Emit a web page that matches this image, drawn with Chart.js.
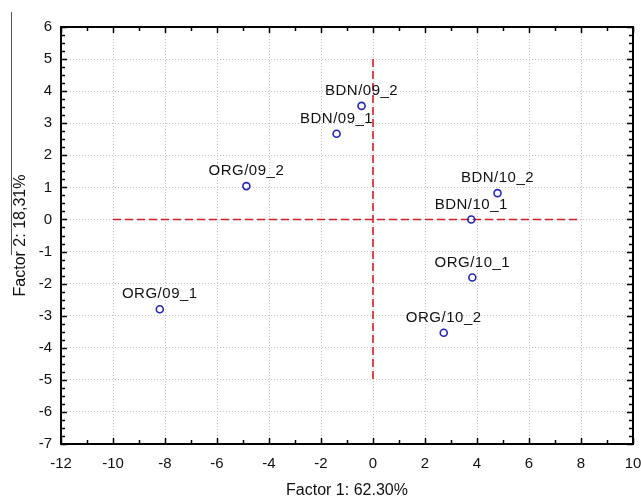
<!DOCTYPE html>
<html>
<head>
<meta charset="utf-8">
<script src="https://cdn.jsdelivr.net/npm/chart.js@4.4.1/dist/chart.umd.min.js"></script>
<style>
  html, body { margin: 0; padding: 0; background: #fff; }
  #wrap { width: 641px; height: 498px; }
</style>
</head>
<body>
<div id="wrap"><canvas id="pcaChart"></canvas></div>
<script>
// sample scores on the first two factors
const sampleNames = ['ORG/09_1', 'ORG/09_2', 'BDN/09_1', 'BDN/09_2', 'BDN/10_1', 'BDN/10_2', 'ORG/10_1', 'ORG/10_2'];
const factor1 = [-8.2, -4.87, -1.40, -0.44, 3.78, 4.79, 3.82, 2.72];
const factor2 = [-2.80, 1.04, 2.67, 3.54, 0.0, 0.82, -1.81, -3.53];

// dashed reference cross
const crossHX = [-10, 8];
const crossHY = [0, 0];
const crossVX = [0, 0];
const crossVY = [5, -5];

const xTitle = 'Factor 1: 62.30%';
const yTitle = 'Factor 2: 18,31%';

const FONT = '"Liberation Sans", Arial, sans-serif';
const TEXT = '#111';

function toPoints(xs, ys) {
  return xs.map((x, i) => ({ x: x, y: ys[i] }));
}

// point labels above each marker
const pointLabels = {
  id: 'pointLabels',
  afterDatasetsDraw(chart) {
    const ctx = chart.ctx;
    const meta = chart.getDatasetMeta(0);
    ctx.save();
    ctx.font = '15px ' + FONT;
    ctx.letterSpacing = '0.5px';
    ctx.fillStyle = TEXT;
    ctx.textAlign = 'center';
    ctx.textBaseline = 'middle';
    meta.data.forEach((el, i) => {
      ctx.fillText(sampleNames[i], el.x, el.y - 15);
    });
    ctx.restore();
  }
};

// black frame with inner tick marks, like the original plot
const frame = {
  id: 'frame',
  afterDraw(chart) {
    const ctx = chart.ctx;
    const a = chart.chartArea;
    const xs = chart.scales.x;
    const ys = chart.scales.y;
    ctx.save();
    ctx.strokeStyle = '#000';
    ctx.lineWidth = 1.5;
    // minor/major ticks along x
    for (let v = xs.min; v <= xs.max; v += 1) {
      const px = Math.round(xs.getPixelForValue(v)) + 0.5;
      const len = (v % 2 === 0) ? 6 : 4;
      ctx.beginPath();
      ctx.moveTo(px, a.bottom); ctx.lineTo(px, a.bottom - len);
      ctx.moveTo(px, a.top); ctx.lineTo(px, a.top + len);
      ctx.stroke();
    }
    // minor/major ticks along y
    for (let k = 0; k <= (ys.max - ys.min) * 4; k++) {
      const v = ys.min + k / 4;
      const py = Math.round(ys.getPixelForValue(v)) + 0.5;
      const len = (k % 4 === 0) ? 6 : 4;
      ctx.beginPath();
      ctx.moveTo(a.left, py); ctx.lineTo(a.left + len, py);
      ctx.moveTo(a.right, py); ctx.lineTo(a.right - len, py);
      ctx.stroke();
    }
    ctx.lineWidth = 2;
    ctx.strokeRect(a.left, a.top, a.right - a.left, a.bottom - a.top);
    // stray rule at the far left of the scan
    ctx.strokeStyle = '#555';
    ctx.lineWidth = 1;
    ctx.beginPath();
    ctx.moveTo(11.5, 12); ctx.lineTo(11.5, 255);
    ctx.stroke();
    ctx.restore();
  }
};

const ctx = document.getElementById('pcaChart').getContext('2d');
new Chart(ctx, {
  type: 'scatter',
  data: {
    datasets: [
      {
        label: 'samples',
        data: toPoints(factor1, factor2),
        pointStyle: 'circle',
        pointRadius: 3.5,
        pointBorderWidth: 1.6,
        pointBorderColor: '#2626b4',
        pointBackgroundColor: 'rgba(255,255,255,0)'
      },
      {
        label: 'h',
        data: toPoints(crossHX, crossHY),
        showLine: true,
        borderColor: '#d0202a',
        borderWidth: 1.6,
        borderDash: [8, 4],
        pointRadius: 0
      },
      {
        label: 'v',
        data: toPoints(crossVX, crossVY),
        showLine: true,
        borderColor: '#d0202a',
        borderWidth: 1.6,
        borderDash: [8, 4],
        pointRadius: 0
      }
    ]
  },
  options: {
    responsive: true,
    maintainAspectRatio: false,
    animation: false,
    layout: { padding: { top: 27, right: 8, left: 0, bottom: 0 } },
    plugins: {
      legend: { display: false },
      tooltip: { enabled: false }
    },
    scales: {
      x: {
        type: 'linear',
        min: -12,
        max: 10,
        afterFit(scale) {
          scale.height = 54;
          scale.paddingLeft = 0;
          scale.paddingRight = 0;
        },
        ticks: {
          stepSize: 2,
          padding: 11,
          color: TEXT,
          font: { family: FONT, size: 15 }
        },
        grid: {
          drawTicks: false,
          color: '#c4c4c4',
          lineWidth: 1
        },
        border: { display: false, dash: [1, 2] },
        title: {
          display: true,
          text: xTitle,
          color: TEXT,
          font: { family: FONT, size: 16, lineHeight: 0.875 },
          padding: { top: 0, bottom: 0 }
        }
      },
      y: {
        type: 'linear',
        min: -7,
        max: 6,
        afterFit(scale) {
          scale.width = 61;
          scale.paddingTop = 0;
          scale.paddingBottom = 0;
        },
        ticks: {
          stepSize: 1,
          padding: 9,
          color: TEXT,
          font: { family: FONT, size: 15 }
        },
        grid: {
          drawTicks: false,
          color: '#c4c4c4',
          lineWidth: 1
        },
        border: { display: false, dash: [1, 2] },
        title: {
          display: true,
          text: yTitle,
          color: TEXT,
          font: { family: FONT, size: 16, lineHeight: 1.2 },
          padding: { top: 11, bottom: 0 }
        }
      }
    }
  },
  plugins: [pointLabels, frame]
});
</script>
</body>
</html>
